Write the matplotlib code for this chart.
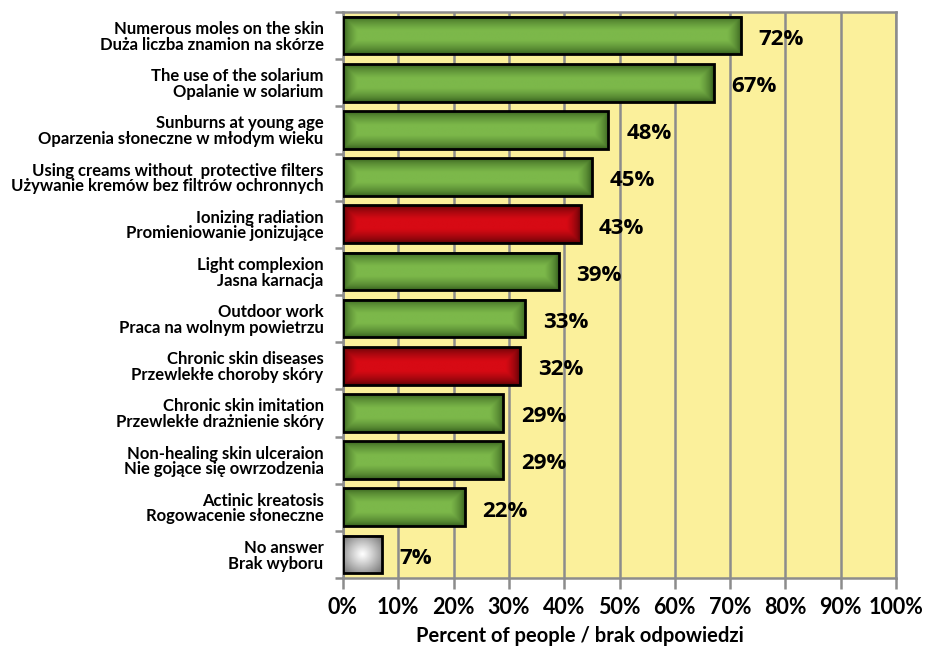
import matplotlib
matplotlib.use("Agg")
import matplotlib.pyplot as plt
import numpy as np
from matplotlib.colors import LinearSegmentedColormap

# dane z wykresu (od gory do dolu)
kategorie = [
    "Numerous moles on the skin\nDuża liczba znamion na skórze",
    "The use of the solarium\nOpalanie w solarium",
    "Sunburns at young age\nOparzenia słoneczne w młodym wieku",
    "Using creams without  protective filters\nUżywanie kremów bez filtrów ochronnych",
    "Ionizing radiation\nPromieniowanie jonizujące",
    "Light complexion\nJasna karnacja",
    "Outdoor work\nPraca na wolnym powietrzu",
    "Chronic skin diseases\nPrzewlekłe choroby skóry",
    "Chronic skin imitation\nPrzewlekłe drażnienie skóry",
    "Non-healing skin ulceraion\nNie gojące się owrzodzenia",
    "Actinic kreatosis\nRogowacenie słoneczne",
    "No answer\nBrak wyboru",
]
wartosci = [72, 67, 48, 45, 43, 39, 33, 32, 29, 29, 22, 7]
etykiety = ["72%", "67%", "48%", "45%", "43%", "39%", "33%", "32%", "29%", "29%", "22%", "7%"]
kolory = ["g", "g", "g", "g", "r", "g", "g", "r", "g", "g", "g", "s"]
x_ticki = [0, 10, 20, 30, 40, 50, 60, 70, 80, 90, 100]

palety = {
    "g": ("#30581a", "#7cb84a"),
    "r": ("#560205", "#d70a14"),
    "s": ("#6e6e6e", "#ffffff"),
}

plt.rcParams["font.family"] = ["Lato", "DejaVu Sans"]

fig = plt.figure(figsize=(9.32, 6.48), dpi=100)
ax = fig.add_axes([343 / 932, 1 - 578 / 648, (896 - 343) / 932, (578 - 12) / 648])
ax.set_facecolor("#fbf09b")

n = len(wartosci)
y = np.arange(n)
h = 0.8

# gradient - ciemniejsze brzegi
gx = np.linspace(-1, 1, 300)
gy = np.linspace(-1, 1, 60)
GX, GY = np.meshgrid(gx, gy)

for i in range(n):
    v = wartosci[i]
    ciemny, jasny = palety[kolory[i]]
    cmap = LinearSegmentedColormap.from_list("k" + str(i), [ciemny, jasny])
    w_px = v * 5.53
    h_px = 38.0
    dx = (1 - np.abs(GX)) * w_px / 2
    dy = (1 - np.abs(GY)) * h_px / 2
    d = np.minimum(dx, dy)
    if kolory[i] == "s":
        r = np.sqrt(GX ** 2 + GY ** 2) / np.sqrt(2)
        z = 1 - r ** 1.1
    else:
        z = np.clip(d / 14.0, 0, 1) ** 0.6
    ax.imshow(z, cmap=cmap, vmin=0, vmax=1, aspect="auto",
              extent=(0, v, i + h / 2, i - h / 2), zorder=3, interpolation="bilinear")
    ax.barh(i, v, height=h, color="none", edgecolor="black", linewidth=2, zorder=4)
    ax.text(v + 3.2, i + 0.08, etykiety[i], va="center", ha="left",
            fontsize=16, fontweight="bold", color="black", zorder=5,
            family=["Open Sans", "DejaVu Sans"])

ax.set_xlim(0, 100)
ax.set_ylim(n - 0.5, -0.5)
ax.set_xticks(x_ticki)
ax.set_xticklabels([str(t) + "%" for t in x_ticki], fontsize=15.5, fontweight="bold")
ax.xaxis.grid(True, color="#8c8c8c", linewidth=1.8, zorder=1)
ax.set_axisbelow(True)

ax.set_yticks(y)
ax.set_yticklabels(kategorie, fontsize=12, fontweight="bold", linespacing=0.98)
ax.set_yticks(np.arange(-0.5, n, 1), minor=True)
ax.tick_params(axis="y", which="major", length=0, pad=14)
ax.tick_params(axis="y", which="minor", length=6, width=1.8, color="#8c8c8c")
ax.tick_params(axis="x", length=8, width=1.8, color="#8c8c8c", pad=6)

for s in ax.spines.values():
    s.set_color("#8c8c8c")
    s.set_linewidth(1.8)

ax.set_xlabel("Percent of people / brak odpowiedzi", fontsize=14.5, fontweight="bold")
ax.xaxis.set_label_coords((580 - 343) / 553, -(636 - 578) / 566)
ax.xaxis.label.set_va("center")

fig.savefig("out.png", dpi=100)
